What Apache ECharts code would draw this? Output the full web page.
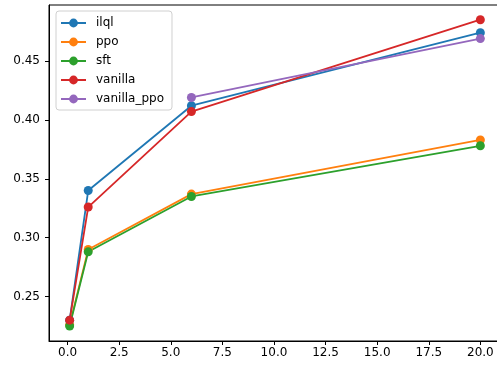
<!DOCTYPE html>
<html><head><meta charset="utf-8">
<script src="https://cdn.jsdelivr.net/npm/echarts@6/dist/echarts.min.js"></script>
<style>html,body{margin:0;padding:0;background:#fff}#c{width:497px;height:365px}</style>
</head><body><div id="c"></div>
<script>
const xSteps = [0.1, 1, 6, 20];
const ilql = [0.230, 0.340, 0.412, 0.474];
const ppo = [0.226, 0.290, 0.337, 0.383];
const sft = [0.225, 0.288, 0.335, 0.378];
const vanilla = [0.230, 0.326, 0.407, 0.485];
const vanillaPpoX = [6, 20];
const vanillaPpo = [0.419, 0.469];
const xTicks = [0, 2.5, 5, 7.5, 10, 12.5, 15, 17.5, 20];
const yTicks = [0.25, 0.30, 0.35, 0.40, 0.45];

const names = ['ilql', 'ppo', 'sft', 'vanilla', 'vanilla_ppo'];
const colors = ['#1f77b4', '#ff7f0e', '#2ca02c', '#d62728', '#9467bd'];
const sets = [[xSteps, ilql], [xSteps, ppo], [xSteps, sft], [xSteps, vanilla], [vanillaPpoX, vanillaPpo]];
const font = 'DejaVu Sans';

const chart = echarts.init(document.getElementById('c'), null, {renderer: 'canvas'});
chart.setOption({
  animation: false,
  backgroundColor: '#fff',
  color: colors,
  grid: {left: 49, top: 5, width: 452, bottom: 24, show: true, borderColor: '#000', borderWidth: 1, backgroundColor: 'transparent', containLabel: false, outerBoundsMode: 'none'},
  legend: {
    orient: 'vertical', left: 56, top: 11,
    data: names,
    itemWidth: 25, itemHeight: 11, itemGap: 5,
    padding: [5, 8, 4, 4],
    backgroundColor: 'rgba(255,255,255,0.8)',
    borderColor: '#d0d0d0', borderWidth: 1, borderRadius: 3,
    textStyle: {fontFamily: font, fontSize: 12, color: '#000', padding: [0, 0, 0, 5], lineHeight: 14}
  },
  xAxis: {
    type: 'value', min: -0.9, max: 21,
    splitLine: {show: false},
    axisLine: {show: true, onZero: false, lineStyle: {color: '#000'}},
    axisTick: {show: true, length: 4, customValues: xTicks, lineStyle: {color: '#000'}},
    axisLabel: {customValues: xTicks, margin: 6, fontFamily: font, fontSize: 12, color: '#000', formatter: v => v.toFixed(1)}
  },
  yAxis: {
    type: 'value', min: 0.2123, max: 0.4975,
    splitLine: {show: false},
    axisLine: {show: true, onZero: false, lineStyle: {color: '#000'}},
    axisTick: {show: true, length: 4, customValues: yTicks, lineStyle: {color: '#000'}},
    axisLabel: {customValues: yTicks, margin: 9, fontFamily: font, fontSize: 12, color: '#000', formatter: v => v.toFixed(2)}
  },
  series: names.map((n, i) => ({
    name: n, type: 'line',
    data: sets[i][0].map((x, j) => [x, sets[i][1][j]]),
    symbol: 'circle', symbolSize: 9,
    showAllSymbol: true,
    lineStyle: {width: 1.8, color: colors[i]},
    itemStyle: {color: colors[i]},
    emphasis: {disabled: true}
  }))
});
</script></body></html>
